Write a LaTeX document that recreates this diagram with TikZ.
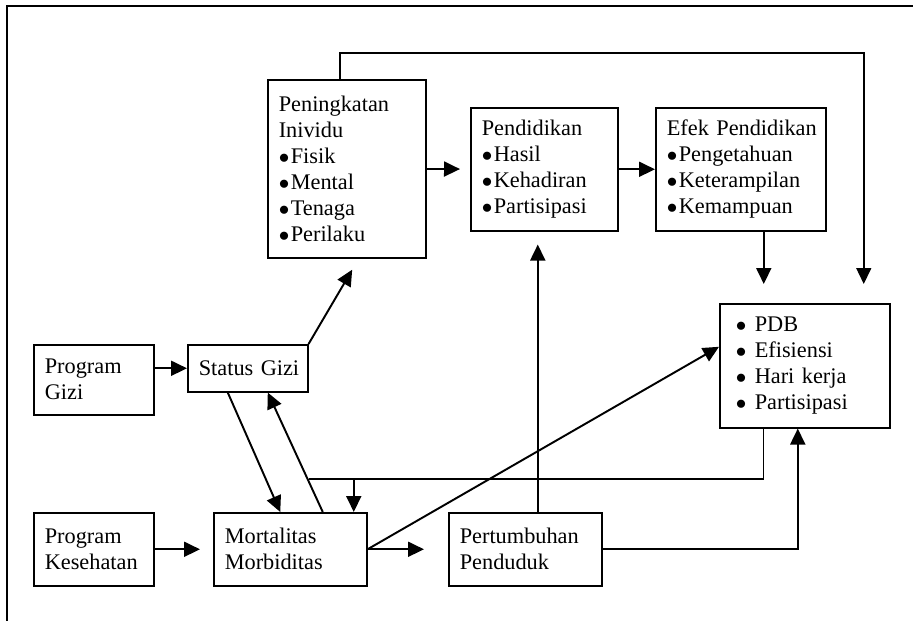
\documentclass[tikz,border=0pt]{standalone}
\usepackage{fontspec}
\setmainfont{Liberation Serif}
\usepackage{amssymb,amsmath}
\usetikzlibrary{arrows.meta, positioning, calc}
\newcommand{\butir}[1]{\makebox[0.24cm][l]{$\bullet$}#1}
\newcommand{\butirb}[1]{\hspace*{0.1cm}\makebox[0.38cm][l]{$\bullet$}#1}

\begin{document}
\begin{tikzpicture}[
  x=0.02cm, y=-0.02cm,
  box/.style={draw, line width=0.9pt, anchor=north west, align=left,
    inner xsep=0.22cm, inner ysep=0pt, font=\fontsize{12.7}{14.8}\selectfont},
  pil/.style={line width=1.1pt, -{Triangle[length=0.32cm, width=0.3cm]}},
  garis/.style={line width=0.8pt},
]
\useasboundingbox (0,0) rectangle (913,621);

%% Frame
\draw[garis] (7,621) -- (7,6) -- (913,6);

%% Boxes
\node[box, text width=1.96cm, minimum width=2.4cm, minimum height=1.4cm] (pgz) at (33,344) {Program\\Gizi};
\node[box, text width=1.96cm, minimum width=2.4cm, minimum height=1.46cm] (pks) at (33,512) {Program\\Kesehatan};
\node[box, text width=1.96cm, minimum width=2.4cm, minimum height=0.94cm] (sgz) at (187,344) {\mbox{Status Gizi}};
\node[box, text width=2.62cm, minimum width=3.06cm, minimum height=1.46cm] (mort) at (213,512) {Mortalitas\\Morbiditas};
\node[box, text width=2.62cm, minimum width=3.06cm, minimum height=1.46cm] (tumbuh) at (448,512) {Pertumbuhan\\Penduduk};
\node[box, text width=2.72cm, minimum width=3.16cm, minimum height=3.56cm] (tingkat) at (267,79)
  {Peningkatan\\Inividu\\\butir{Fisik}\\\butir{Mental}\\\butir{Tenaga}\\\butir{Perilaku}};
\node[box, text width=2.5cm, minimum width=2.94cm, minimum height=2.46cm] (didik) at (470,107)
  {Pendidikan\\\butir{Hasil}\\\butir{Kehadiran}\\\butir{Partisipasi}};
\node[box, text width=2.96cm, minimum width=3.4cm, minimum height=2.46cm] (efek) at (655,107)
  {\mbox{Efek Pendidikan}\\\butir{Pengetahuan}\\\butir{Keterampilan}\\\butir{Kemampuan}};
\node[box, text width=2.96cm, minimum width=3.4cm, minimum height=2.48cm] (hasil) at (719,303)
  {\butirb{PDB}\\\butirb{Efisiensi}\\\butirb{\mbox{Hari kerja}}\\\butirb{Partisipasi}};

%% Helper points
\coordinate (e1) at ([xshift=0.46cm]efek.south);
\coordinate (t1) at ([xshift=0.25cm]tumbuh.north);
\coordinate (b1) at ([xshift=-0.82cm]hasil.south);
\coordinate (b2) at ([yshift=0.66cm]mort.north);

%% Arrows
\draw[pil] (pgz.east |- sgz.west) -- (sgz.west);
\draw[pil, shorten >=0.26cm] (pks) -- (mort);
\draw[pil, shorten >=0.48cm] (mort) -- (tumbuh);
\draw[pil, shorten >=0.2cm] (tingkat) -- (didik);
\draw[pil] (didik) -- (efek);
\draw[pil, shorten >=0.26cm] (sgz.north east) -- ([xshift=0.24cm]tingkat.south);
\draw[pil] ([xshift=-0.4cm]sgz.south) -- ([xshift=-0.2cm]mort.north);
\draw[pil] ([xshift=0.65cm]mort.north) -- ([xshift=0.4cm]sgz.south);
\draw[pil, shorten >=0.38cm] (e1) -- (e1 |- hasil.north);
\draw[pil, line width=0.9pt, shorten >=0.38cm]
  ([xshift=-0.14cm]tingkat.north) -- ++(0,0.52cm) -| ([xshift=1.18cm]hasil.north);
\draw[pil, shorten >=0.26cm] (t1) -- (t1 |- didik.south);
\draw[pil] (mort.east) -- ([yshift=0.38cm]hasil.west);
\draw[pil] (tumbuh.east) -| ([xshift=-0.14cm]hasil.south);

%% Feedback
\draw[garis] (b1) |- (b2 -| sgz.east);
\draw[pil] ([xshift=1.27cm]b2) -- ([xshift=1.27cm]mort.north);

\end{tikzpicture}
\end{document}
